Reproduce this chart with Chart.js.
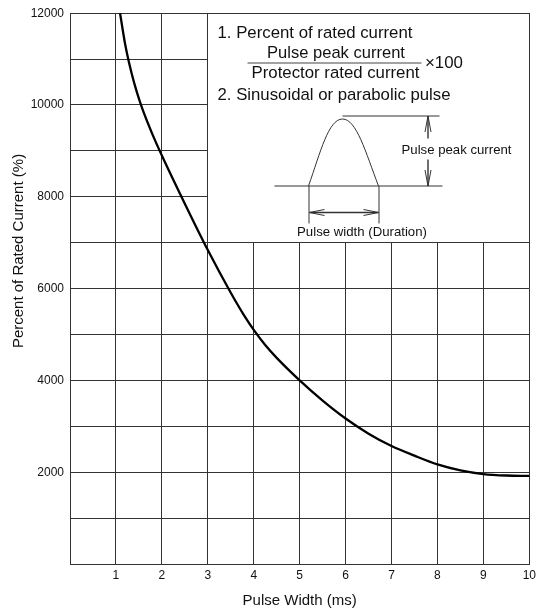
<!DOCTYPE html>
<html>
<head>
<meta charset="utf-8">
<script src="https://cdn.jsdelivr.net/npm/chart.js@4.4.1/dist/chart.umd.min.js"></script>
<style>
html,body{margin:0;padding:0;background:#fff;}
canvas{display:block;}
</style>
</head>
<body>
<canvas id="c" width="540" height="611"></canvas>
<script>
// ---- data ----
const pulseWidthMs = [1.09, 1.2, 1.3, 1.4, 1.5, 1.6, 1.8, 2.0, 2.5, 3.0, 3.5, 3.8, 4.0, 4.25, 4.5, 5.0, 5.5, 6.0, 6.5, 7.0, 7.5, 8.0, 8.5, 9.0, 9.5, 10.0];
const percentRated = [12000, 11330, 10860, 10470, 10140, 9850, 9350, 8900, 7850, 6840, 5910, 5400, 5100, 4770, 4490, 4000, 3560, 3170, 2840, 2570, 2360, 2170, 2040, 1960, 1928, 1920];
const xTickValues = [1, 2, 3, 4, 5, 6, 7, 8, 9, 10];
const yTickLabels = [2000, 4000, 6000, 8000, 10000, 12000];
const xTitle = 'Pulse Width (ms)';
const yTitle = 'Percent of Rated Current (%)';
const noteLine1 = '1. Percent of rated current';
const noteNumerator = 'Pulse peak current';
const noteDenominator = 'Protector rated current';
const noteFactor = '\u00d7100';
const noteLine2 = '2. Sinusoidal or parabolic pulse';
const diagPeakLabel = 'Pulse peak current';
const diagWidthLabel = 'Pulse width (Duration)';
// inset box spans these data ranges
const insetX = [3, 10];
const insetY = [7000, 12000];

const FONT = '"Liberation Sans", Arial, Helvetica, sans-serif';
const GRID = '#333333';
const INK = '#111111';

function fitFont(ctx, text, width) {
  ctx.font = '100px ' + FONT;
  const w = ctx.measureText(text).width;
  return (100 * width / w);
}
function setFit(ctx, text, width) {
  const s = fitFont(ctx, text, width);
  ctx.font = s.toFixed(2) + 'px ' + FONT;
}
function arrowHead(ctx, tipX, tipY, dx, dy, len, half) {
  const bx = tipX - dx * len, by = tipY - dy * len;
  const px = -dy, py = dx;
  ctx.beginPath();
  ctx.moveTo(bx + px * half, by + py * half);
  ctx.lineTo(tipX, tipY);
  ctx.lineTo(bx - px * half, by - py * half);
  ctx.stroke();
}

const insetPlugin = {
  id: 'inset',
  beforeDatasetsDraw(chart) {
    const ctx = chart.ctx;
    const xs = chart.scales.x, ys = chart.scales.y;
    const al = p => Math.round(p - 0.5) + 0.5;
    const L = al(xs.getPixelForValue(insetX[0]));
    const R = al(xs.getPixelForValue(insetX[1]));
    const T = al(ys.getPixelForValue(insetY[1]));
    const B = al(ys.getPixelForValue(insetY[0]));
    ctx.save();
    ctx.fillStyle = '#ffffff';
    ctx.fillRect(L + 0.5, T + 0.5, R - L - 1, B - T - 1);
    ctx.strokeStyle = GRID;
    ctx.lineWidth = 1;
    ctx.strokeRect(L, T, R - L, B - T);

    // texts
    ctx.fillStyle = INK;
    ctx.textBaseline = 'middle';
    ctx.textAlign = 'left';
    setFit(ctx, noteLine1, 195);
    ctx.fillText(noteLine1, L + 10, T + 20);
    ctx.textAlign = 'center';
    setFit(ctx, noteNumerator, 138);
    ctx.fillText(noteNumerator, L + 128.5, T + 40);
    setFit(ctx, noteDenominator, 168);
    ctx.fillText(noteDenominator, L + 128, T + 60);
    ctx.textAlign = 'left';
    setFit(ctx, noteFactor, 38);
    ctx.fillText(noteFactor, L + 217.5, T + 49.5);
    setFit(ctx, noteLine2, 233);
    ctx.fillText(noteLine2, L + 10, T + 81.5);
    // fraction bar
    ctx.strokeStyle = '#444';
    ctx.lineWidth = 1.2;
    ctx.beginPath();
    ctx.moveTo(L + 40, T + 49.5);
    ctx.lineTo(L + 214, T + 49.5);
    ctx.stroke();

    // pulse diagram
    const base = T + 172.5, top = T + 102.5;
    const f1 = L + 101, f2 = L + 171, pk = L + 135;
    ctx.strokeStyle = '#333';
    ctx.lineWidth = 1;
    ctx.beginPath();
    ctx.moveTo(L + 67, base); ctx.lineTo(L + 235, base);
    ctx.moveTo(pk, top); ctx.lineTo(L + 232, top);
    ctx.moveTo(f1 + 0.5, base); ctx.lineTo(f1 + 0.5, T + 210);
    ctx.moveTo(f2 + 0.5, base); ctx.lineTo(f2 + 0.5, T + 210);
    ctx.stroke();
    ctx.beginPath();
    ctx.moveTo(f1, base);
    ctx.bezierCurveTo(f1 + 12, base - 34, f1 + 20, top + 3, pk, top + 3);
    ctx.bezierCurveTo(pk + 14, top + 3, f2 - 13, base - 34, f2, base);
    ctx.stroke();
    // horizontal double arrow
    const ay = T + 199;
    ctx.lineWidth = 1.6;
    ctx.beginPath();
    ctx.moveTo(f1 + 1, ay); ctx.lineTo(f2, ay);
    ctx.stroke();
    ctx.lineWidth = 1;
    arrowHead(ctx, f1 + 1, ay, -1, 0, 15, 3);
    arrowHead(ctx, f2, ay, 1, 0, 15, 3);
    // vertical double arrow
    const ax = L + 220.5;
    ctx.lineWidth = 1.4;
    ctx.beginPath();
    ctx.moveTo(ax, top); ctx.lineTo(ax, T + 125);
    ctx.moveTo(ax, T + 146); ctx.lineTo(ax, base);
    ctx.stroke();
    ctx.lineWidth = 1;
    arrowHead(ctx, ax, top, 0, -1, 16, 3);
    arrowHead(ctx, ax, base, 0, 1, 16, 3);
    // diagram labels
    ctx.fillStyle = INK;
    ctx.textAlign = 'center';
    setFit(ctx, diagPeakLabel, 110);
    ctx.fillText(diagPeakLabel, L + 249, T + 136.5);
    setFit(ctx, diagWidthLabel, 130);
    ctx.fillText(diagWidthLabel, L + 154.5, T + 218.5);
    ctx.restore();
  },
  afterDraw(chart) {
    const ctx = chart.ctx;
    ctx.save();
    ctx.fillStyle = INK;
    ctx.font = '15px ' + FONT;
    ctx.textAlign = 'center';
    ctx.textBaseline = 'middle';
    ctx.translate(19, 251);
    ctx.rotate(-Math.PI / 2);
    ctx.fillText(yTitle, 0, 0);
    ctx.restore();
  }
};

const points = pulseWidthMs.map((x, i) => ({ x: x, y: percentRated[i] }));

new Chart(document.getElementById('c'), {
  type: 'line',
  data: {
    datasets: [{
      data: points,
      borderColor: '#000000',
      borderWidth: 2.3,
      pointRadius: 0,
      fill: false,
      cubicInterpolationMode: 'monotone',
      clip: 2
    }]
  },
  options: {
    responsive: false,
    animation: false,
    devicePixelRatio: 1,
    layout: { padding: { top: 12, right: 8, left: 0, bottom: 0 } },
    plugins: { legend: { display: false }, tooltip: { enabled: false } },
    scales: {
      x: {
        type: 'linear',
        min: 0, max: 10,
        afterFit(s) { s.height = 47; },
        afterBuildTicks(s) { s.ticks = [0].concat(xTickValues).map(v => ({ value: v })); },
        ticks: {
          callback: v => (xTickValues.includes(v) ? String(v) : ''),
          font: { family: FONT, size: 12 },
          color: INK,
          padding: 4,
          maxRotation: 0,
          autoSkip: false
        },
        grid: { color: GRID, lineWidth: 1, drawTicks: false },
        border: { color: GRID, width: 1 },
        title: {
          display: true,
          text: xTitle,
          font: { family: FONT, size: 15 },
          color: INK,
          padding: { top: 0, bottom: 1 }
        }
      },
      y: {
        type: 'linear',
        min: 0, max: 12000,
        afterFit(s) { s.width = 70; },
        ticks: {
          stepSize: 1000,
          callback: v => (yTickLabels.includes(v) ? String(v) : ''),
          font: { family: FONT, size: 12 },
          color: INK,
          padding: 6,
          autoSkip: false
        },
        grid: { color: GRID, lineWidth: 1, drawTicks: false },
        border: { color: GRID, width: 1 }
      }
    }
  },
  plugins: [insetPlugin]
});
</script>
</body>
</html>
